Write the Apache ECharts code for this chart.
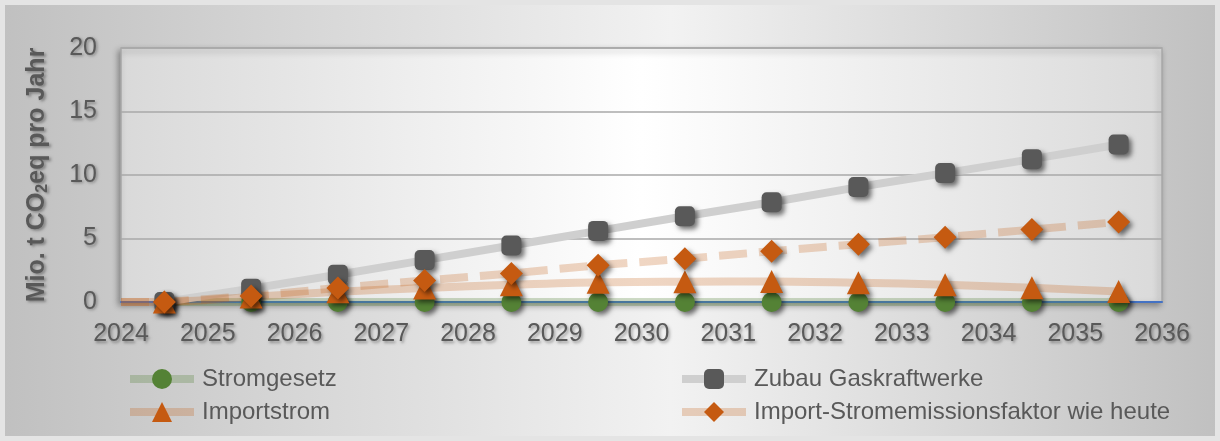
<!DOCTYPE html>
<html>
<head>
<meta charset="utf-8">
<script src="https://cdn.jsdelivr.net/npm/echarts@6/dist/echarts.min.js"></script>
<style>
html,body{margin:0;padding:0;background:#e2e2e2;}
#chart{width:1220px;height:441px;}
</style>
</head>
<body>
<div id="chart"></div>
<script>
// ---- data ----
var years = [2024, 2024.5, 2025.5, 2026.5, 2027.5, 2028.5, 2029.5, 2030.5, 2031.5, 2032.5, 2033.5, 2034.5, 2035.5];
var stromgesetz = [null, 0, 0, 0, 0, 0, 0, 0, 0, 0, 0, 0, 0];
var zubauGaskraftwerke = [null, 0, 1.05, 2.15, 3.3, 4.45, 5.6, 6.75, 7.85, 9.05, 10.15, 11.25, 12.4];
var importstrom = [0, 0, 0.4, 0.8, 1.1, 1.35, 1.55, 1.6, 1.62, 1.52, 1.36, 1.12, 0.82];
var importFaktor = [0, 0, 0.48, 1.1, 1.7, 2.25, 2.9, 3.4, 4.0, 4.55, 5.1, 5.7, 6.3];
var xTicks = [2024, 2025, 2026, 2027, 2028, 2029, 2030, 2031, 2032, 2033, 2034, 2035, 2036];
var yTicks = [0, 5, 10, 15, 20];
var seriesNames = ['Stromgesetz', 'Zubau Gaskraftwerke', 'Importstrom', 'Import-Stromemissionsfaktor wie heute'];

var FONT = '"Liberation Sans", Arial, sans-serif';
var txtShadow = {textShadowColor: 'rgba(0,0,0,0.35)', textShadowBlur: 3, textShadowOffsetX: 1.5, textShadowOffsetY: 1.5};
var symShadow = {shadowColor: 'rgba(0,0,0,0.55)', shadowBlur: 5, shadowOffsetX: 3, shadowOffsetY: 3};

function build(vals, size) {
  var out = [];
  for (var i = 0; i < years.length; i++) {
    if (vals[i] === null) continue;
    out.push({value: [years[i], vals[i]], symbolSize: i === 0 ? 0 : size});
  }
  return out;
}

var legendCommon = {
  orient: 'vertical', top: 367, itemGap: 9, padding: 0,
  itemWidth: 64, itemHeight: 25,
  textStyle: {color: '#595959', fontSize: 24, fontFamily: FONT, padding: [0, 0, 0, 3]},
  lineStyle: {type: 'solid', width: 8}
};

var chart = echarts.init(document.getElementById('chart'), null, {renderer: 'canvas'});
var option = {
  animation: false,
  backgroundColor: {
    type: 'linear', x: 0, y: 0, x2: 1, y2: 0,
    colorStops: [{offset: 0, color: '#c0c0c0'}, {offset: 0.55, color: '#f2f2f2'}, {offset: 1, color: '#c0c0c0'}]
  },
  graphic: [{
    type: 'rect', left: 0, top: 0, z: 100, silent: true,
    shape: {x: 2.5, y: 2.5, width: 1215, height: 436},
    style: {fill: null, stroke: '#e4e4e4', lineWidth: 5}
  }],
  grid: {
    left: 121, right: 58, top: 48, bottom: 139,
    show: true,
    backgroundColor: {
      type: 'linear', x: 0, y: 0, x2: 1, y2: 0,
      colorStops: [{offset: 0, color: '#d9d9d9'}, {offset: 0.5, color: '#ffffff'}, {offset: 1, color: '#dadada'}]
    },
    borderColor: '#a8a8a8', borderWidth: 1.5,
    shadowColor: 'rgba(0,0,0,0.35)', shadowBlur: 6, shadowOffsetX: -2, shadowOffsetY: 3
  },
  xAxis: {
    type: 'value', min: 2024, max: 2036, interval: 1,
    axisLine: {show: true, lineStyle: {color: '#4472c4', width: 2}},
    axisTick: {show: false},
    splitLine: {show: false},
    axisLabel: Object.assign({
      color: '#595959', fontSize: 25, fontFamily: FONT, margin: 20,
      formatter: function (v) { return xTicks.indexOf(v) >= 0 ? String(v) : ''; }
    }, txtShadow)
  },
  yAxis: {
    type: 'value', min: 0, max: 20, interval: 5,
    name: 'Mio. t CO{sub|2}eq pro Jahr',
    nameLocation: 'middle', nameGap: 70,
    nameTextStyle: Object.assign({
      color: '#595959', fontSize: 25, fontWeight: 'bold', fontFamily: FONT,
      rich: {sub: {fontSize: 16, fontWeight: 'bold', color: '#595959', fontFamily: FONT, verticalAlign: 'bottom', padding: [11, 0, 0, 0]}}
    }, txtShadow),
    axisLine: {show: false},
    axisTick: {show: false},
    splitLine: {show: true, lineStyle: {color: '#a8a8a8', width: 1.5}},
    axisLabel: Object.assign({
      color: '#595959', fontSize: 25, fontFamily: FONT, margin: 24,
      formatter: function (v) { return yTicks.indexOf(v) >= 0 ? String(v) : ''; }
    }, txtShadow)
  },
  legend: [
    Object.assign({left: 126, data: [seriesNames[0], seriesNames[2]]}, legendCommon),
    Object.assign({left: 678, data: [seriesNames[1], seriesNames[3]]}, legendCommon)
  ],
  series: [{
    name: seriesNames[0], type: 'line',
    data: build(stromgesetz, 20),
    symbol: 'circle',
    lineStyle: {color: 'rgba(84,130,53,0.28)', width: 8},
    itemStyle: Object.assign({color: '#548235'}, symShadow)
  }, {
    name: seriesNames[1], type: 'line',
    data: build(zubauGaskraftwerke, 20),
    symbol: 'roundRect',
    lineStyle: {color: '#cfcfcf', width: 8},
    itemStyle: Object.assign({color: '#595959'}, symShadow)
  }, {
    name: seriesNames[2], type: 'line', smooth: 0.3,
    data: build(importstrom, 23),
    symbol: 'triangle',
    lineStyle: {color: 'rgba(197,90,17,0.25)', width: 8},
    itemStyle: Object.assign({color: '#c55a11'}, symShadow)
  }, {
    name: seriesNames[3], type: 'line',
    data: build(importFaktor, 23),
    symbol: 'diamond',
    lineStyle: {color: 'rgba(197,90,17,0.25)', width: 8, type: [28, 12]},
    itemStyle: Object.assign({color: '#c55a11'}, symShadow)
  }]
};
chart.setOption(option);
</script>
</body>
</html>
